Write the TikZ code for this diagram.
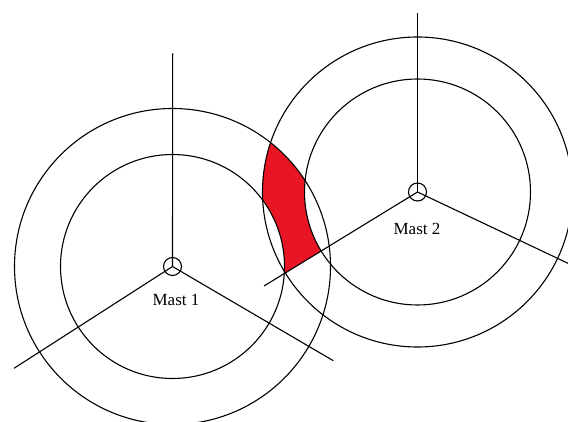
\documentclass[tikz,border=0pt]{standalone}
\usepackage{fontspec}
\setmainfont{Liberation Serif}
\usetikzlibrary{calc}
\begin{document}
\begin{tikzpicture}[x=1pt,y=-1pt,
  ln/.style={line width=1.1pt,black},
  hub/.style={circle,draw,line width=1.1pt,minimum size=18pt,inner sep=0pt},
  lbl/.style={font=\fontsize{17}{17}\selectfont,inner sep=0pt}]
\useasboundingbox (0,0) rectangle (568,422);
\definecolor{zonered}{RGB}{232,22,36}
% mast centres
\coordinate (c1) at (172.5,266.5);
\coordinate (c2) at (417.5,192);
% spoke ends
\coordinate (t1) at (172.7,53.3);
\coordinate (l1) at (14,368.3);
\coordinate (r1) at (333.3,360.7);
\coordinate (t2) at (417.5,13.3);
\coordinate (l2) at (264,286);
\coordinate (r2) at (568,263.3);
% red zone: ring1 ∩ ring2 above spoke of mast 2
\begin{scope}
  \clip (c1) circle[radius=158];
  \clip (c2) circle[radius=155];
  \clip (c2) -- ($(c2)!2!(l2)$) -- (100,0) -- (417.5,0) -- cycle;
  \fill[zonered] (200,100) rectangle (360,300);
  \fill[white] (c1) circle[radius=112];
  \fill[white] (c2) circle[radius=113];
\end{scope}
% circles
\draw[ln] (c1) circle[radius=112];
\draw[ln] (c1) circle[radius=158];
\draw[ln] (c2) circle[radius=113];
\draw[ln] (c2) circle[radius=155];
% hubs
\node[hub] (m1) at (c1) {};
\node[hub] (m2) at (c2) {};
% spokes
\draw[ln] (m1.center) -- (t1);
\draw[ln] (m1.center) -- (l1);
\draw[ln] (m1.center) -- (r1);
\draw[ln] (m2.center) -- (t2);
\draw[ln] (m2.center) -- (l2);
\draw[ln] (m2.center) -- (r2);
% labels
\node[lbl] (lab1) at (176,300) {Mast 1};
\node[lbl] (lab2) at (417,229) {Mast 2};
\end{tikzpicture}
\end{document}
